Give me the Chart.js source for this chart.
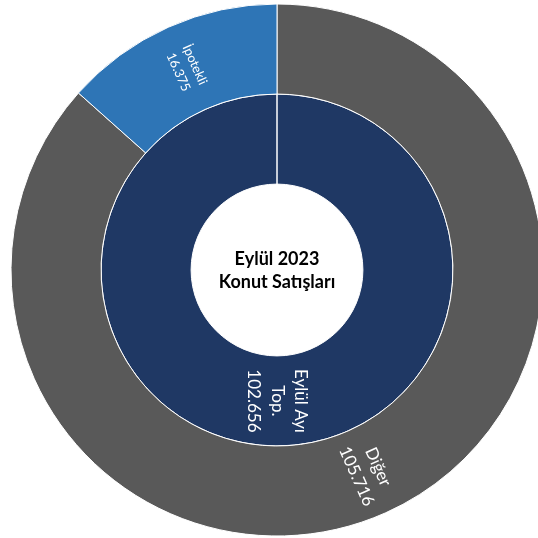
<!DOCTYPE html>
<html>
<head>
<meta charset="utf-8">
<script src="https://cdn.jsdelivr.net/npm/chart.js@4/dist/chart.umd.min.js"></script>
<style>
  html, body { margin: 0; padding: 0; background: #fff; }
  #wrap { width: 538px; height: 538px; }
</style>
</head>
<body>
<div id="wrap"><canvas id="myChart" width="538" height="538"></canvas></div>
<script>
// outer ring (clockwise from 12 o'clock)
var outerLabels = [['Diğer'], ['İpotekli']];
var outerValues = [105716, 16375];
// inner ring
var innerLabels = [['Eylül Ayı', 'Top.']];
var innerValues = [102656];
var centerTitle = ['Eylül 2023', 'Konut Satışları'];

// label font size per segment
var outerFontSizes = [17, 13];
var innerFontSizes = [17];

function fmt(v) {
  return String(v).replace(/\B(?=(\d{3})+(?!\d))/g, '.');
}

var arcLabels = {
  id: 'arcLabels',
  afterDatasetsDraw: function (chart) {
    var ctx = chart.ctx;
    chart.data.datasets.forEach(function (ds, di) {
      var meta = chart.getDatasetMeta(di);
      meta.data.forEach(function (arc, i) {
        var lines = ds.labelNames[i].concat([fmt(ds.data[i])]);
        var size = ds.fontSizes[i];
        var lh = size * 1.38;
        var pos = arc.tooltipPosition();
        var mid = (arc.startAngle + arc.endAngle) / 2;
        var rot = mid;
        while (rot > Math.PI / 2 + 0.01) rot -= Math.PI;
        while (rot < -Math.PI / 2 - 0.01) rot += Math.PI;
        ctx.save();
        ctx.translate(pos.x, pos.y);
        ctx.rotate(rot);
        ctx.fillStyle = '#ffffff';
        ctx.font = size + 'px Lato, "Open Sans", sans-serif';
        ctx.textAlign = 'center';
        ctx.textBaseline = 'middle';
        var y0 = -(lines.length - 1) * lh / 2;
        lines.forEach(function (t, k) {
          ctx.fillText(t, 0, y0 + k * lh);
        });
        ctx.restore();
      });
    });

    // centre title
    var cx = (chart.chartArea.left + chart.chartArea.right) / 2;
    var cy = (chart.chartArea.top + chart.chartArea.bottom) / 2;
    ctx.save();
    ctx.fillStyle = '#000000';
    ctx.font = 'bold 18px Lato, "Open Sans", sans-serif';
    ctx.textAlign = 'center';
    ctx.textBaseline = 'middle';
    ctx.fillText(centerTitle[0], cx, cy - 11);
    ctx.fillText(centerTitle[1], cx, cy + 12);
    ctx.restore();
  }
};

var ctx = document.getElementById('myChart').getContext('2d');
var myChart = new Chart(ctx, {
  type: 'doughnut',
  data: {
    labels: outerLabels.map(function (l) { return l.join(' '); }),
    datasets: [{
      data: outerValues,
      labelNames: outerLabels,
      fontSizes: outerFontSizes,
      backgroundColor: ['#595959', '#2E75B6'],
      borderColor: '#ffffff',
      borderWidth: 1,
      clip: false
    }, {
      data: innerValues,
      labelNames: innerLabels,
      fontSizes: innerFontSizes,
      backgroundColor: ['#1F3864'],
      borderColor: '#ffffff',
      borderWidth: 1,
      clip: false
    }]
  },
  options: {
    responsive: false,
    animation: false,
    radius: 266,
    cutout: '32.3%',
    layout: { padding: { left: 16, top: 2, right: 0, bottom: 0 } },
    plugins: {
      legend: { display: false },
      tooltip: { enabled: false }
    }
  },
  plugins: [arcLabels]
});
</script>
</body>
</html>
